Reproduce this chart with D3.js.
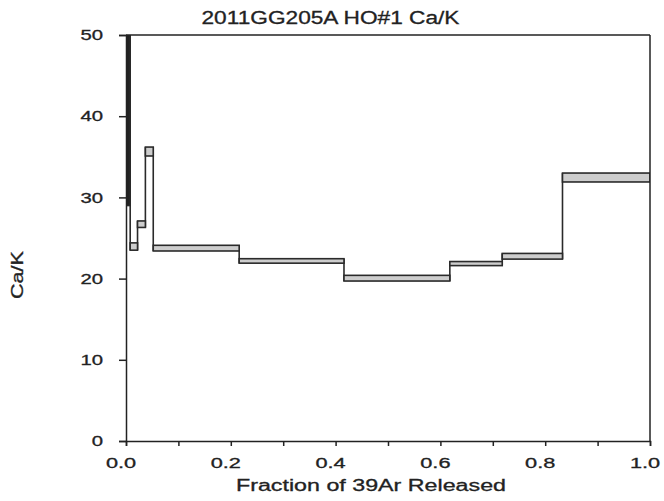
<!DOCTYPE html>
<html>
<head>
<meta charset="utf-8">
<script src="https://cdn.jsdelivr.net/npm/d3@7"></script>
<style>
  body { margin: 0; background: #fff; }
  text { font-family: "Liberation Sans", Arial, sans-serif; fill: #222; stroke: #222; stroke-width: 0.3px; }
</style>
</head>
<body>
<script>
var w = 664;
var h = 501;

// step spectrum: cumulative fraction edges and Ca/K band (low / high) per step
var fracEdges = [0, 0.008, 0.022, 0.037, 0.052, 0.216, 0.416, 0.618, 0.718, 0.833, 1.0];
var caLow  = [29.0, 23.5, 26.3, 35.1, 23.4, 21.9, 19.7, 21.6, 22.4, 31.9];
var caHigh = [80.0, 24.4, 27.1, 36.2, 24.1, 22.45, 20.4, 22.1, 23.1, 33.0];

var xTicks = [0, 0.1, 0.2, 0.3, 0.4, 0.5, 0.6, 0.7, 0.8, 0.9, 1.0];
var xLabels = [0, 0.2, 0.4, 0.6, 0.8, 1.0];
var yTicks = [0, 10, 20, 30, 40, 50];

var title = "2011GG205A HO#1 Ca/K";
var xTitle = "Fraction of 39Ar Released";
var yTitle = "Ca/K";

var steps = caLow.map(function(d, i) {
  return { x0: fracEdges[i], x1: fracEdges[i + 1], lo: d, hi: caHigh[i] };
});

var pLeft = 126, pRight = 650, pTop = 35, pBottom = 441;

var x = d3.scaleLinear().domain([0, 1]).range([pLeft, pRight]);
var y = d3.scaleLinear().domain([0, 50]).range([pBottom, pTop]);

var svg = d3.select("body").append("svg")
    .attr("width", w)
    .attr("height", h);

svg.append("clipPath").attr("id", "plotclip")
  .append("rect")
    .attr("x", pLeft)
    .attr("y", pTop)
    .attr("width", pRight - pLeft)
    .attr("height", pBottom - pTop);

var plot = svg.append("g").attr("clip-path", "url(#plotclip)");

// vertical connectors between neighbouring steps
var links = steps.slice(1).map(function(s, i) {
  var p = steps[i];
  return { x: s.x0, y0: Math.min(p.lo, s.lo), y1: Math.max(p.hi, s.hi) };
});

plot.selectAll("line.link")
  .data(links)
  .enter().append("line")
    .attr("class", "link")
    .attr("x1", function(d) { return x(d.x); })
    .attr("x2", function(d) { return x(d.x); })
    .attr("y1", function(d) { return y(d.y0); })
    .attr("y2", function(d) { return y(d.y1); })
    .attr("stroke", "#2a2a2a")
    .attr("stroke-width", 1.6);

plot.selectAll("rect.step")
  .data(steps)
  .enter().append("rect")
    .attr("class", "step")
    .attr("x", function(d) { return x(d.x0); })
    .attr("width", function(d) { return x(d.x1) - x(d.x0); })
    .attr("y", function(d) { return y(d.hi); })
    .attr("height", function(d) { return y(d.lo) - y(d.hi); })
    .attr("fill", function(d) { return (x(d.x1) - x(d.x0)) < 6 ? "#222" : "#cdcdcd"; })
    .attr("stroke", "#2a2a2a")
    .attr("stroke-width", 1.6);

// frame top and right
svg.append("line")
    .attr("x1", pLeft).attr("x2", pRight)
    .attr("y1", pTop).attr("y2", pTop)
    .attr("stroke", "#222").attr("stroke-width", 1.5);
svg.append("line")
    .attr("x1", pRight).attr("x2", pRight)
    .attr("y1", pTop).attr("y2", pBottom)
    .attr("stroke", "#222").attr("stroke-width", 1.5);

var xAxis = d3.axisBottom(x)
    .tickValues(xTicks)
    .tickSize(5)
    .tickFormat(function(d) {
      return xLabels.some(function(v) { return Math.abs(v - d) < 1e-9; }) ? d3.format(".1f")(d) : "";
    });

var gx = svg.append("g")
    .attr("transform", "translate(0," + pBottom + ")")
    .call(xAxis);

var yAxis = d3.axisLeft(y)
    .tickValues(yTicks)
    .tickSize(7);

var gy = svg.append("g")
    .attr("transform", "translate(" + pLeft + ",0)")
    .call(yAxis);

[gx, gy].forEach(function(g) {
  g.select(".domain").attr("stroke", "#222").attr("stroke-width", 1.5);
  g.selectAll(".tick line").attr("stroke", "#222").attr("stroke-width", 1.5);
  g.selectAll(".tick text")
    .style("font-family", "'Liberation Sans', Arial, sans-serif")
    .style("font-size", "14.5px")
    .attr("fill", "#222");
});
gx.selectAll(".tick text")
    .attr("x", 0).attr("y", 0).attr("dy", null)
    .attr("transform", "translate(-5.5,27) scale(1.5,1)");
gy.selectAll(".tick text")
    .attr("x", 0)
    .attr("transform", "translate(-23,0) scale(1.4,1)");

svg.append("text")
    .attr("x", 330.5)
    .attr("y", 24)
    .attr("text-anchor", "middle")
    .attr("textLength", 258)
    .attr("lengthAdjust", "spacingAndGlyphs")
    .style("font-size", "18px")
    .text(title);

svg.append("text")
    .attr("x", 371)
    .attr("y", 491)
    .attr("text-anchor", "middle")
    .attr("textLength", 270)
    .attr("lengthAdjust", "spacingAndGlyphs")
    .style("font-size", "16px")
    .text(xTitle);

svg.append("text")
    .attr("transform", "translate(23,275)rotate(-90)")
    .attr("text-anchor", "middle")
    .attr("textLength", 48)
    .attr("lengthAdjust", "spacingAndGlyphs")
    .style("font-size", "16px")
    .text(yTitle);
</script>
</body>
</html>
